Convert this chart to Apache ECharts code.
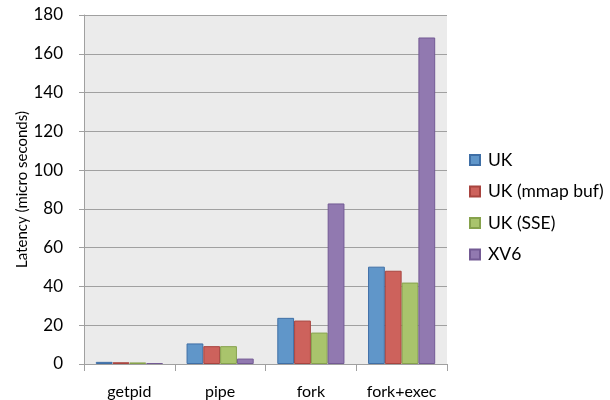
<!DOCTYPE html>
<html><head><meta charset="utf-8">
<script src="https://cdn.jsdelivr.net/npm/echarts@6/dist/echarts.min.js"></script>
<style>html,body{margin:0;padding:0;background:#fff}#c{width:610px;height:400px}</style>
</head><body><div id="c"></div>
<script>
const categories = ['getpid', 'pipe', 'fork', 'fork+exec'];
const seriesNames = ['UK', 'UK (mmap buf)', 'UK (SSE)', 'XV6'];
const ukValues = [1.1, 10.6, 23.8, 50.2];
const ukMmapValues = [0.9, 9.2, 22.4, 48.1];
const ukSseValues = [0.8, 9.2, 16.2, 42.0];
const xv6Values = [0.5, 2.8, 82.8, 168.4];
const yTicks = {min: 0, max: 180, interval: 20};

const fills = ['#6096C9', '#CD625C', '#A9C46C', '#9179B0'];
const borders = ['#3F6FA6', '#A8443F', '#86A24C', '#735A94'];
const values = [ukValues, ukMmapValues, ukSseValues, xv6Values];
const font = 'Lato, "Open Sans", sans-serif';

const chart = echarts.init(document.getElementById('c'), null, {renderer: 'canvas'});
chart.setOption({
  animation: false,
  textStyle: {fontFamily: font},
  grid: {left: 84, right: 163, top: 15, bottom: 35.5, show: true, backgroundColor: '#EBEBEB', borderWidth: 0},
  legend: {
    orient: 'vertical', left: 464, top: 145,
    itemWidth: 10, itemHeight: 10, itemGap: 11.5, icon: 'rect',
    textStyle: {fontSize: 17.5, color: '#000', fontFamily: font, lineHeight: 20, padding: [0, 0, 0, 3]},
    data: seriesNames
  },
  xAxis: {
    type: 'category', data: categories,
    axisLine: {show: true, lineStyle: {color: '#A0A0A0', width: 1}},
    axisTick: {show: true, length: 7, alignWithLabel: false, lineStyle: {color: '#A0A0A0'}},
    axisLabel: {fontSize: 16, color: '#000', margin: 20, fontFamily: font},
    splitLine: {show: false}
  },
  yAxis: {
    type: 'value', min: yTicks.min, max: yTicks.max, interval: yTicks.interval,
    name: 'Latency (micro seconds)', nameLocation: 'middle', nameGap: 54,
    nameMoveOverlap: false,
    nameTextStyle: {fontSize: 15, color: '#000', fontFamily: font},
    axisLine: {show: true, lineStyle: {color: '#A0A0A0', width: 1}},
    axisTick: {show: true, length: 5, lineStyle: {color: '#A0A0A0'}},
    axisLabel: {fontSize: 17, color: '#000', margin: 21, fontFamily: font},
    splitLine: {show: true, lineStyle: {color: '#A0A0A0', width: 1}}
  },
  series: seriesNames.map((n, i) => ({
    name: n, type: 'bar', data: values[i],
    barGap: '0%', barCategoryGap: '26%',
    itemStyle: {color: fills[i], borderColor: borders[i], borderWidth: 1}
  }))
});
</script></body></html>
